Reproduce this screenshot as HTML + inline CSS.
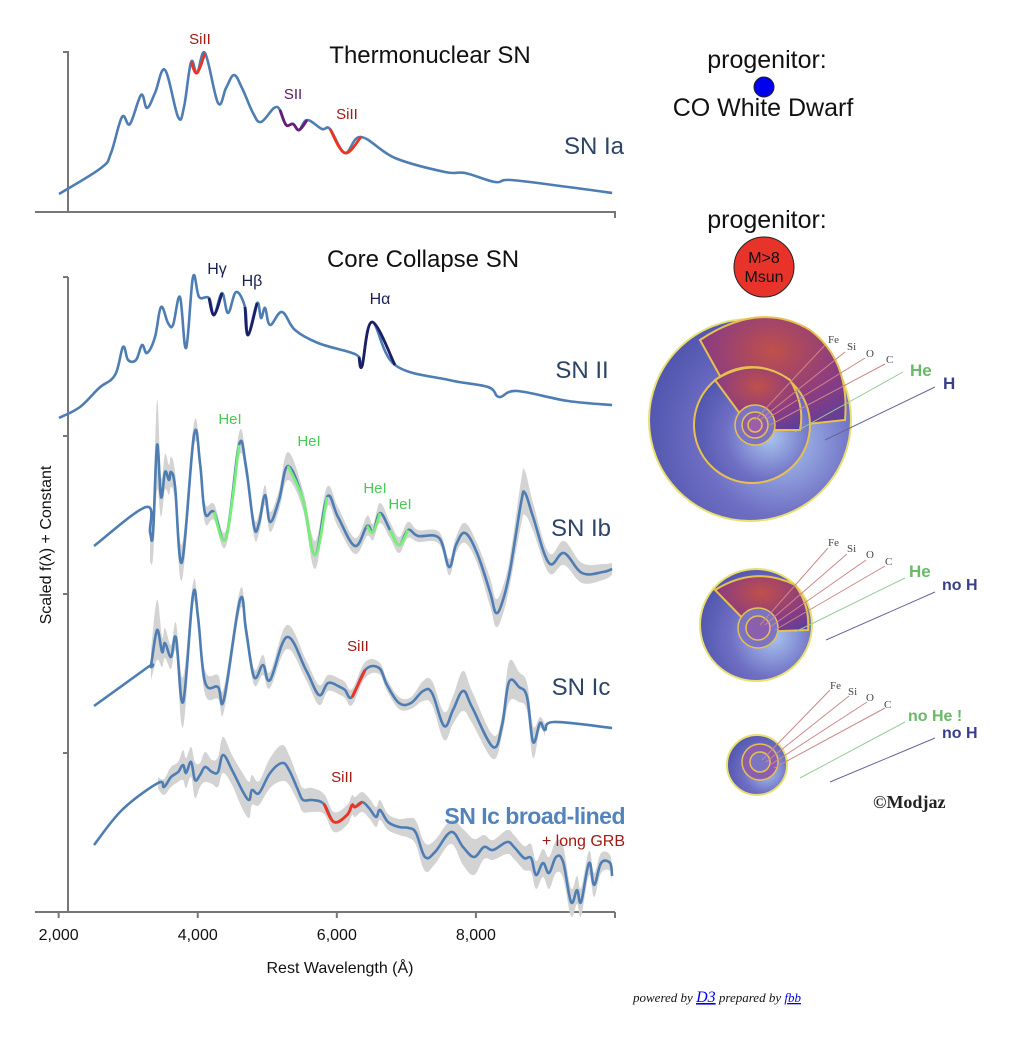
<!DOCTYPE html>
<html><head><meta charset="utf-8">
<style>
html,body{margin:0;padding:0;background:#fff;}
svg{display:block;font-family:"Liberation Sans",sans-serif;}
</style></head>
<body>
<svg id="chart" width="1014" height="1040" viewBox="0 0 1014 1040" xmlns="http://www.w3.org/2000/svg">
<defs>
  <radialGradient id="sphereBlue" cx="0.65" cy="0.6" r="0.75">
    <stop offset="0" stop-color="#a9c6ef"/>
    <stop offset="0.5" stop-color="#6f6fc4"/>
    <stop offset="1" stop-color="#4a4fa8"/>
  </radialGradient>
  <radialGradient id="sphereRed" cx="0.5" cy="0.3" r="0.8">
    <stop offset="0" stop-color="#c0504a"/>
    <stop offset="0.6" stop-color="#8a3c82"/>
    <stop offset="1" stop-color="#5a3f9a"/>
  </radialGradient>
</defs>
<g id="plot"></g>
<g id="right">
  <text x="767" y="68" font-size="25" text-anchor="middle" fill="#111">progenitor:</text>
  <circle cx="764" cy="87" r="10" fill="#0000ee" stroke="#222" stroke-width="1"/>
  <text x="763" y="116" font-size="25" text-anchor="middle" fill="#111">CO White Dwarf</text>
  <text x="767" y="228" font-size="25" text-anchor="middle" fill="#111">progenitor:</text>
  <circle cx="764" cy="267" r="30" fill="#e8332a" stroke="#222" stroke-width="1"/>
  <text x="764" y="263" font-size="16" text-anchor="middle" fill="#111">M&gt;8</text>
  <text x="764" y="282" font-size="16" text-anchor="middle" fill="#111">Msun</text>

  <g>
    <circle cx="750" cy="420" r="101" fill="url(#sphereBlue)" stroke="#e8e070" stroke-width="2"/>
    <path d="M700 340 Q760 300 810 330 Q850 360 845 420 L750 430 Z" fill="url(#sphereRed)" stroke="#e8c050" stroke-width="2"/>
    <circle cx="752" cy="425" r="58" fill="url(#sphereBlue)" stroke="#e8c050" stroke-width="2"/>
    <path d="M715 380 Q755 355 790 380 Q805 405 800 430 L752 430 Z" fill="url(#sphereRed)" stroke="#e8c050" stroke-width="2"/>
    <circle cx="755" cy="425" r="20" fill="#7a74c2" stroke="#e8c050" stroke-width="1.5"/>
    <circle cx="755" cy="425" r="13" fill="#8a5fae" stroke="#e8c050" stroke-width="1.5"/>
    <circle cx="755" cy="425" r="7" fill="#9a5fa8" stroke="#e8c050" stroke-width="1.5"/>
    <line x1="755" y1="420" x2="825" y2="345" stroke="#c88" stroke-width="1"/>
    <line x1="760" y1="420" x2="845" y2="352" stroke="#c88" stroke-width="1"/>
    <line x1="765" y1="420" x2="865" y2="358" stroke="#c88" stroke-width="1"/>
    <line x1="770" y1="425" x2="885" y2="364" stroke="#c88" stroke-width="1"/>
    <line x1="795" y1="432" x2="903" y2="372" stroke="#9c9" stroke-width="1"/>
    <line x1="825" y1="440" x2="935" y2="387" stroke="#669" stroke-width="1"/>
    <text x="828" y="343" font-family="Liberation Serif,serif" font-size="11" fill="#444">Fe</text>
    <text x="847" y="350" font-family="Liberation Serif,serif" font-size="11" fill="#444">Si</text>
    <text x="866" y="357" font-family="Liberation Serif,serif" font-size="11" fill="#444">O</text>
    <text x="886" y="363" font-family="Liberation Serif,serif" font-size="11" fill="#444">C</text>
    <text x="910" y="376" font-size="17" font-weight="bold" fill="#6ab86a">He</text>
    <text x="943" y="389" font-size="17" font-weight="bold" fill="#3a3f8a">H</text>
  </g>
  <g>
    <circle cx="756" cy="625" r="56" fill="url(#sphereBlue)" stroke="#e8e070" stroke-width="2"/>
    <path d="M715 590 Q755 565 795 585 Q810 605 808 630 L756 632 Z" fill="url(#sphereRed)" stroke="#e8c050" stroke-width="2"/>
    <circle cx="758" cy="628" r="20" fill="#7a74c2" stroke="#e8c050" stroke-width="1.5"/>
    <circle cx="758" cy="628" r="12" fill="#8a5fae" stroke="#e8c050" stroke-width="1.5"/>
    <line x1="760" y1="625" x2="828" y2="548" stroke="#c88" stroke-width="1"/>
    <line x1="765" y1="625" x2="847" y2="554" stroke="#c88" stroke-width="1"/>
    <line x1="770" y1="627" x2="866" y2="560" stroke="#c88" stroke-width="1"/>
    <line x1="775" y1="630" x2="885" y2="566" stroke="#c88" stroke-width="1"/>
    <line x1="795" y1="632" x2="905" y2="578" stroke="#9c9" stroke-width="1"/>
    <line x1="826" y1="640" x2="935" y2="592" stroke="#669" stroke-width="1"/>
    <text x="828" y="546" font-family="Liberation Serif,serif" font-size="11" fill="#444">Fe</text>
    <text x="847" y="552" font-family="Liberation Serif,serif" font-size="11" fill="#444">Si</text>
    <text x="866" y="558" font-family="Liberation Serif,serif" font-size="11" fill="#444">O</text>
    <text x="885" y="565" font-family="Liberation Serif,serif" font-size="11" fill="#444">C</text>
    <text x="909" y="577" font-size="17" font-weight="bold" fill="#6ab86a">He</text>
    <text x="942" y="590" font-size="16" font-weight="bold" fill="#3a3f8a">no H</text>
  </g>
  <g>
    <circle cx="757" cy="765" r="30" fill="url(#sphereBlue)" stroke="#e8e070" stroke-width="2"/>
    <circle cx="760" cy="762" r="18" fill="#8a5fae" stroke="#e8c050" stroke-width="1.5"/>
    <circle cx="760" cy="762" r="10" fill="#7a74c2" stroke="#e8c050" stroke-width="1.5"/>
    <line x1="762" y1="760" x2="830" y2="690" stroke="#c88" stroke-width="1"/>
    <line x1="766" y1="762" x2="849" y2="696" stroke="#c88" stroke-width="1"/>
    <line x1="770" y1="765" x2="867" y2="702" stroke="#c88" stroke-width="1"/>
    <line x1="774" y1="768" x2="885" y2="708" stroke="#c88" stroke-width="1"/>
    <line x1="800" y1="778" x2="905" y2="722" stroke="#9c9" stroke-width="1"/>
    <line x1="830" y1="782" x2="935" y2="738" stroke="#669" stroke-width="1"/>
    <text x="830" y="689" font-family="Liberation Serif,serif" font-size="11" fill="#444">Fe</text>
    <text x="848" y="695" font-family="Liberation Serif,serif" font-size="11" fill="#444">Si</text>
    <text x="866" y="701" font-family="Liberation Serif,serif" font-size="11" fill="#444">O</text>
    <text x="884" y="708" font-family="Liberation Serif,serif" font-size="11" fill="#444">C</text>
    <text x="908" y="721" font-size="16" font-weight="bold" fill="#6ab86a">no He !</text>
    <text x="942" y="738" font-size="16" font-weight="bold" fill="#3a3f8a">no H</text>
  </g>
  <text x="873" y="808" font-family="Liberation Serif,serif" font-size="18" font-weight="bold" fill="#222">©Modjaz</text>
  <text x="633" y="1002" font-family="Liberation Serif,serif" font-size="13" font-style="italic" fill="#111">powered by <tspan fill="#00e" text-decoration="underline" font-size="16">D3</tspan> prepared by <tspan fill="#00e" text-decoration="underline">fbb</tspan></text>
</g>
</svg>
<script>
// Wavelength (Å), flux (arbitrary units), uncertainty
const iaSpec = [[2005,18],[2609,44],[2753,59],[2911,95],[3026,88],[3185,117],[3271,104],[3386,119],[3530,142],[3717,95],[3803,105],[3904,150],[3990,139],[4105,159],[4292,109],[4407,124],[4522,137],[4637,124],[4795,99],[4910,90],[5097,104],[5183,102],[5270,87],[5370,88],[5457,82],[5572,92],[5787,83],[5902,83],[6118,59],[6348,75],[6837,54],[7556,40],[7844,39],[8275,30],[8505,32],[9325,25],[9958,19]];
const iiSpec = [[2005,494],[2307,505],[2581,524],[2811,537],[2926,565],[2998,552],[3113,552],[3199,567],[3271,559],[3386,575],[3472,605],[3573,589],[3645,587],[3745,615],[3832,564],[3932,635],[4019,615],[4162,614],[4234,597],[4349,619],[4436,599],[4551,620],[4680,605],[4723,577],[4853,609],[4910,594],[4968,604],[5040,587],[5212,600],[5399,582],[5730,569],[6176,560],[6319,555],[6363,546],[6506,590],[6837,547],[7614,532],[8175,525],[8333,515],[8591,521],[9325,511],[9958,507]];
const ibSpec = [[2509,366,0],[3257,405,0],[3314,380,30],[3357,379,25],[3415,467,45],[3472,415,20],[3530,440,18],[3587,432,15],[3616,440,15],[3674,425,15],[3774,350,18],[3947,477,12],[4033,449,10],[4105,399,10],[4234,400,8],[4407,374,8],[4594,467,12],[4694,445,10],[4810,385,10],[4882,389,10],[4968,417,10],[5040,390,10],[5169,412,10],[5298,446,14],[5514,412,10],[5687,357,14],[5859,415,10],[6017,395,10],[6262,366,8],[6434,386,10],[6521,380,8],[6621,399,10],[6765,382,8],[6895,367,8],[7024,382,8],[7168,376,6],[7470,374,6],[7614,345,8],[7714,367,8],[7844,379,10],[8016,359,10],[8203,320,14],[8290,299,14],[8390,312,14],[8491,342,14],[8649,409,22],[8706,419,22],[8822,395,14],[9051,349,10],[9267,359,12],[9526,339,10],[9828,340,8],[9958,343,6]];
const icSpec = [[2509,206,0],[3285,245,0],[3328,247,15],[3415,282,30],[3487,260,15],[3530,269,15],[3616,255,12],[3688,274,15],[3789,210,25],[3932,317,12],[4004,295,12],[4105,230,12],[4292,225,12],[4378,213,12],[4608,312,10],[4694,282,10],[4810,235,8],[4939,247,10],[5040,232,8],[5284,275,12],[5557,242,10],[5744,217,10],[5874,229,8],[6046,225,8],[6118,222,8],[6219,215,8],[6406,242,8],[6607,244,6],[6722,227,6],[6895,209,6],[7067,209,6],[7240,221,10],[7369,219,12],[7542,186,14],[7671,202,14],[7815,221,20],[7944,205,16],[8246,165,12],[8376,187,10],[8476,230,20],[8620,225,15],[8735,215,14],[8822,170,16],[8922,189,6],[8994,182,6],[9123,190,0],[9958,184,0]];
const iclSpec = [[2509,67,0],[2911,102,0],[3429,129,6],[3515,125,8],[3616,135,10],[3717,140,10],[3789,147,15],[3832,139,15],[3904,150,15],[3961,132,18],[4033,137,12],[4105,145,15],[4206,140,12],[4292,140,15],[4364,157,18],[4493,142,15],[4637,122,18],[4738,112,18],[4781,122,15],[4882,119,12],[5040,139,15],[5212,149,18],[5313,142,15],[5442,122,12],[5514,112,12],[5644,112,12],[5816,108,10],[5960,90,10],[6147,97,10],[6219,107,10],[6262,105,10],[6363,110,10],[6463,104,10],[6564,95,10],[6621,102,10],[6736,90,8],[6895,85,8],[7038,84,10],[7139,79,12],[7268,55,14],[7412,60,12],[7643,80,12],[7815,65,18],[7973,55,18],[8117,65,12],[8246,62,10],[8448,70,12],[8548,65,12],[8692,54,12],[8793,54,14],[8865,37,14],[8965,49,14],[9051,39,16],[9152,55,16],[9253,50,16],[9368,10,14],[9454,22,14],[9512,10,14],[9627,49,12],[9699,27,12],[9800,49,10],[9929,49,8],[9958,36,6]];
// highlighted feature ranges [from, to]
const iaRedRanges = [[3904,4105],[5902,6348]];
const iaPurpleRanges = [[5183,5572]];
const iiHRanges = [[4162,4349],[4680,4853],[6319,6837]];
const ibHeRanges = [[4234,4594],[5298,5859],[6434,6621],[6765,7024]];
const icSiRanges = [[6219,6406]];
const iclSiRanges = [[5816,6363]];
const xTicks = [2000,4000,6000,8000,10000];
const xTickLabels = ["2,000","4,000","6,000","8,000",""];
const lowerYTicks = [0,159,318,476,635];

const NS = "http://www.w3.org/2000/svg";
const plot = document.getElementById('plot');
const X0 = 35, X1 = 615, L0 = 1660, L1 = 10000;
function xs(l){ return X0 + (l - L0) / (L1 - L0) * (X1 - X0); }
function yUp(f){ return 212 - f; }
function yLo(f){ return 912 - f; }
function mk(tag, attrs, parent){
  const e = document.createElementNS(NS, tag);
  for (const k in attrs) e.setAttribute(k, attrs[k]);
  (parent || plot).appendChild(e);
  return e;
}
// smooth path through pixel points (Catmull-Rom -> cubic Bezier)
function smooth(P, start){
  if (!P.length) return '';
  let d = (start ? 'M' : 'L') + P[0][0].toFixed(1)+' '+P[0][1].toFixed(1);
  const t = 0.18;
  for (let i = 0; i < P.length - 1; i++){
    const p0 = P[i-1] || P[i], p1 = P[i], p2 = P[i+1], p3 = P[i+2] || P[i+1];
    const c1 = [p1[0] + (p2[0]-p0[0])*t, p1[1] + (p2[1]-p0[1])*t];
    const c2 = [p2[0] - (p3[0]-p1[0])*t, p2[1] - (p3[1]-p1[1])*t];
    d += ' C'+c1[0].toFixed(1)+' '+c1[1].toFixed(1)+' '+c2[0].toFixed(1)+' '+c2[1].toFixed(1)+' '+p2[0].toFixed(1)+' '+p2[1].toFixed(1);
  }
  return d;
}
function pathOf(pts, ys){ return smooth(pts.map(p => [xs(p[0]), ys(p[1])]), true); }
function band(spec, ys, name){
  const pts = spec.filter(p => p[2] > 0);
  if (!pts.length) return;
  const up = pts.map(p => [xs(p[0]), ys(p[1]+p[2])]);
  const lo = pts.slice().reverse().map(p => [xs(p[0]), ys(p[1]-p[2])]);
  const d = smooth(up, true) + ' ' + smooth(lo, false) + ' Z';
  const b = mk('path', {d:d, fill:'#d3d3d3', stroke:'none'});
  
  
}
function line(spec, ys, name){
  const l = mk('path', {d:pathOf(spec, ys), fill:'none', stroke:'#4d7db3', 'stroke-width':2.6, 'stroke-linejoin':'round'});
  
  
}
function highlight(spec, ys, ranges, color, name){
  ranges.forEach(r => {
    const pts = spec.filter(p => p[0] >= r[0] && p[0] <= r[1]);
    const h = mk('path', {d:pathOf(pts, ys), fill:'none', stroke:color, 'stroke-width':2.8, 'stroke-linejoin':'round'});
    
    
  });
}
function txt(x, y, s, attrs, name){
  const t = mk('text', Object.assign({x:x, y:y}, attrs));
  t.textContent = s;
  
  
  return t;
}

// axes
const ax = mk('g', {stroke:'#777', 'stroke-width':2, fill:'none'});


mk('path', {d:'M35 212 H615 V218'}, ax);
mk('path', {d:'M63 52 H68 V212'}, ax);
mk('path', {d:'M35 912 H615'}, ax);
mk('path', {d:'M68 277 V912'}, ax);
lowerYTicks.forEach(t => { mk('path', {d:'M63 '+yLo(t)+' H68'}, ax); });
xTicks.forEach((t,i) => {
  mk('path', {d:'M'+xs(t)+' 912 V918'}, ax);
  if (xTickLabels[i]) txt(xs(t), 940, xTickLabels[i], {'font-size':16, 'text-anchor':'middle', fill:'#111'}, 'x-tick-label');
});
txt(340, 973, 'Rest Wavelength (Å)', {'font-size':16, 'text-anchor':'middle', fill:'#111'}, 'x-axis-title');
txt(0, 0, 'Scaled f(λ) + Constant', {'font-size':16, 'text-anchor':'middle', fill:'#111', transform:'translate(51 545) rotate(-90)'}, 'y-axis-title');

band(ibSpec, yLo, 'sn-ib-uncertainty');
band(icSpec, yLo, 'sn-ic-uncertainty');
band(iclSpec, yLo, 'sn-ic-bl-uncertainty');
line(iaSpec, yUp, 'sn-ia-spectrum');
line(iiSpec, yLo, 'sn-ii-spectrum');
line(ibSpec, yLo, 'sn-ib-spectrum');
line(icSpec, yLo, 'sn-ic-spectrum');
line(iclSpec, yLo, 'sn-ic-bl-spectrum');
highlight(iaSpec, yUp, iaRedRanges, '#ee3322', 'si-ii-feature');
highlight(iaSpec, yUp, iaPurpleRanges, '#6a1a7a', 's-ii-feature');
highlight(iiSpec, yLo, iiHRanges, '#1a1f66', 'hydrogen-feature');
highlight(ibSpec, yLo, ibHeRanges, '#77ee77', 'he-i-feature');
highlight(icSpec, yLo, icSiRanges, '#ee3322', 'si-ii-feature');
highlight(iclSpec, yLo, iclSiRanges, '#ee3322', 'si-ii-feature');

const red = '#a31a12';
txt(200, 44, 'SiII', {'font-size':15, 'text-anchor':'middle', fill:red}, 'si-ii-label');
txt(293, 99, 'SII', {'font-size':15, 'text-anchor':'middle', fill:'#5a1a6a'}, 's-ii-label');
txt(347, 119, 'SiII', {'font-size':15, 'text-anchor':'middle', fill:red}, 'si-ii-label');
txt(430, 63, 'Thermonuclear SN', {'font-size':24, 'text-anchor':'middle', fill:'#111'}, 'thermonuclear-title');
txt(423, 267, 'Core Collapse SN', {'font-size':24, 'text-anchor':'middle', fill:'#111'}, 'core-collapse-title');
txt(594, 154, 'SN Ia', {'font-size':24, 'text-anchor':'middle', fill:'#2c4466'}, 'sn-ia-label');
txt(582, 378, 'SN II', {'font-size':24, 'text-anchor':'middle', fill:'#2c4466'}, 'sn-ii-label');
txt(581, 536, 'SN Ib', {'font-size':24, 'text-anchor':'middle', fill:'#2c4466'}, 'sn-ib-label');
txt(581, 695, 'SN Ic', {'font-size':24, 'text-anchor':'middle', fill:'#2c4466'}, 'sn-ic-label');
txt(625, 824, 'SN Ic broad-lined', {'font-size':23, 'font-weight':'bold', 'text-anchor':'end', fill:'#5283bb', 'letter-spacing':'-0.5'}, 'sn-ic-bl-label');
txt(625, 846, '+ long GRB', {'font-size':16, 'text-anchor':'end', fill:red}, 'long-grb-label');
txt(217, 274, 'Hγ', {'font-size':16, 'text-anchor':'middle', fill:'#1a1f55'}, 'h-gamma-label');
txt(252, 286, 'Hβ', {'font-size':16, 'text-anchor':'middle', fill:'#1a1f55'}, 'h-beta-label');
txt(380, 304, 'Hα', {'font-size':16, 'text-anchor':'middle', fill:'#1a1f55'}, 'h-alpha-label');
const grn = '#44cc55';
txt(230, 424, 'HeI', {'font-size':15, 'text-anchor':'middle', fill:grn}, 'he-i-label');
txt(309, 446, 'HeI', {'font-size':15, 'text-anchor':'middle', fill:grn}, 'he-i-label');
txt(375, 493, 'HeI', {'font-size':15, 'text-anchor':'middle', fill:grn}, 'he-i-label');
txt(400, 509, 'HeI', {'font-size':15, 'text-anchor':'middle', fill:grn}, 'he-i-label');
txt(358, 651, 'SiII', {'font-size':15, 'text-anchor':'middle', fill:red}, 'si-ii-label');
txt(342, 782, 'SiII', {'font-size':15, 'text-anchor':'middle', fill:red}, 'si-ii-label');
</script>
</body></html>
